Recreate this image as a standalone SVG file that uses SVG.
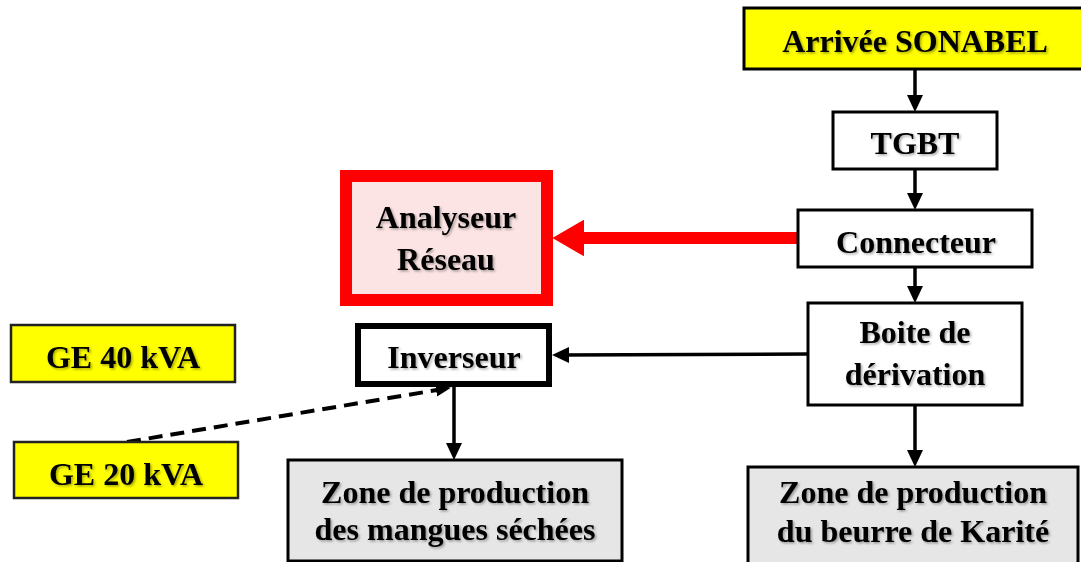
<svg xmlns="http://www.w3.org/2000/svg" width="1081" height="562" viewBox="0 0 1081 562">
<style>
.box{fill:#fff;stroke:#000;stroke-width:3}
.yel{fill:#ffff00;stroke:#000;stroke-width:3}
.gen{fill:#ffff00;stroke:#222;stroke-width:2.5}
.zone{fill:#e6e6e6;stroke:#000;stroke-width:3}
.t{font-family:"Liberation Serif","Times New Roman",serif;font-weight:bold;font-size:32px;fill:#000;text-anchor:middle;filter:url(#sh)}
.c{stroke:#000;stroke-width:3.5;fill:none;marker-end:url(#ah)}
</style>
<defs>
<filter id="sh" x="-10%" y="-20%" width="120%" height="150%">
<feDropShadow dx="1.5" dy="1.5" stdDeviation="1" flood-color="#000" flood-opacity="0.35"/>
</filter>
<marker id="ah" markerUnits="userSpaceOnUse" markerWidth="17" markerHeight="17" viewBox="0 0 17 16" refX="8" refY="8" orient="auto">
<path d="M0,0 L17,8 L0,16 z" fill="#000"/>
</marker>
<marker id="ahs" markerUnits="userSpaceOnUse" markerWidth="15" markerHeight="13" viewBox="0 0 15 13" refX="7" refY="6.5" orient="auto">
<path d="M0,0 L15,6.5 L0,13 z" fill="#000"/>
</marker>
<marker id="ahr" markerUnits="userSpaceOnUse" markerWidth="32" markerHeight="37" viewBox="0 0 31 36" refX="9" refY="18" orient="auto">
<path d="M0,0 L31,18 L0,36 z" fill="#ff0000"/>
</marker>
</defs>

<g id="connectors">
<line class="c" x1="915" y1="69" x2="915" y2="103"/>
<line class="c" x1="915" y1="169" x2="915" y2="201"/>
<line class="c" x1="915" y1="267" x2="915" y2="294"/>
<line class="c" x1="915" y1="405" x2="915" y2="458"/>
<line class="c" x1="808" y1="354" x2="561" y2="355"/>
<line class="c" x1="454" y1="387" x2="454" y2="451"/>
<line x1="127" y1="442" x2="443" y2="389" stroke="#000" stroke-width="4" stroke-dasharray="14,8" marker-end="url(#ahs)"/>
<line x1="798" y1="238" x2="575" y2="238" stroke="#ff0000" stroke-width="12" marker-end="url(#ahr)"/>
</g>

<g id="arrivee">
<rect class="yel" x="744" y="8" width="350" height="61"/>
<text class="t" x="915" y="52">Arrivée SONABEL</text>
</g>

<g id="tgbt">
<rect class="box" x="833" y="112" width="164" height="57"/>
<text class="t" x="915" y="154">TGBT</text>
</g>

<g id="connecteur">
<rect class="box" x="798" y="210" width="234" height="57"/>
<text class="t" x="916" y="253">Connecteur</text>
</g>

<g id="analyseur">
<rect x="346" y="176" width="201" height="124" fill="#fde4e4" stroke="#ff0000" stroke-width="12"/>
<text class="t" x="446" y="228">Analyseur</text>
<text class="t" x="446" y="270">Réseau</text>
</g>

<g id="boite">
<rect class="box" x="808" y="303" width="214" height="102"/>
<text class="t" x="915" y="343">Boite de</text>
<text class="t" x="915" y="385">dérivation</text>
</g>

<g id="inverseur">
<rect x="358" y="326" width="191" height="58" fill="#fff" stroke="#000" stroke-width="6"/>
<text class="t" x="454" y="368">Inverseur</text>
</g>

<g id="ge40">
<rect class="gen" x="11" y="325" width="224" height="57"/>
<text class="t" x="123" y="368">GE 40 kVA</text>
</g>

<g id="ge20">
<rect class="gen" x="14" y="442" width="224" height="56"/>
<text class="t" x="126" y="485">GE 20 kVA</text>
</g>

<g id="mangues">
<rect class="zone" x="288" y="460" width="334" height="101"/>
<text class="t" x="455" y="503">Zone de production</text>
<text class="t" x="455" y="540">des mangues séchées</text>
</g>

<g id="karite">
<rect class="zone" x="748" y="467" width="330" height="110"/>
<text class="t" x="913" y="503">Zone de production</text>
<text class="t" x="913" y="542">du beurre de Karité</text>
</g>
</svg>
